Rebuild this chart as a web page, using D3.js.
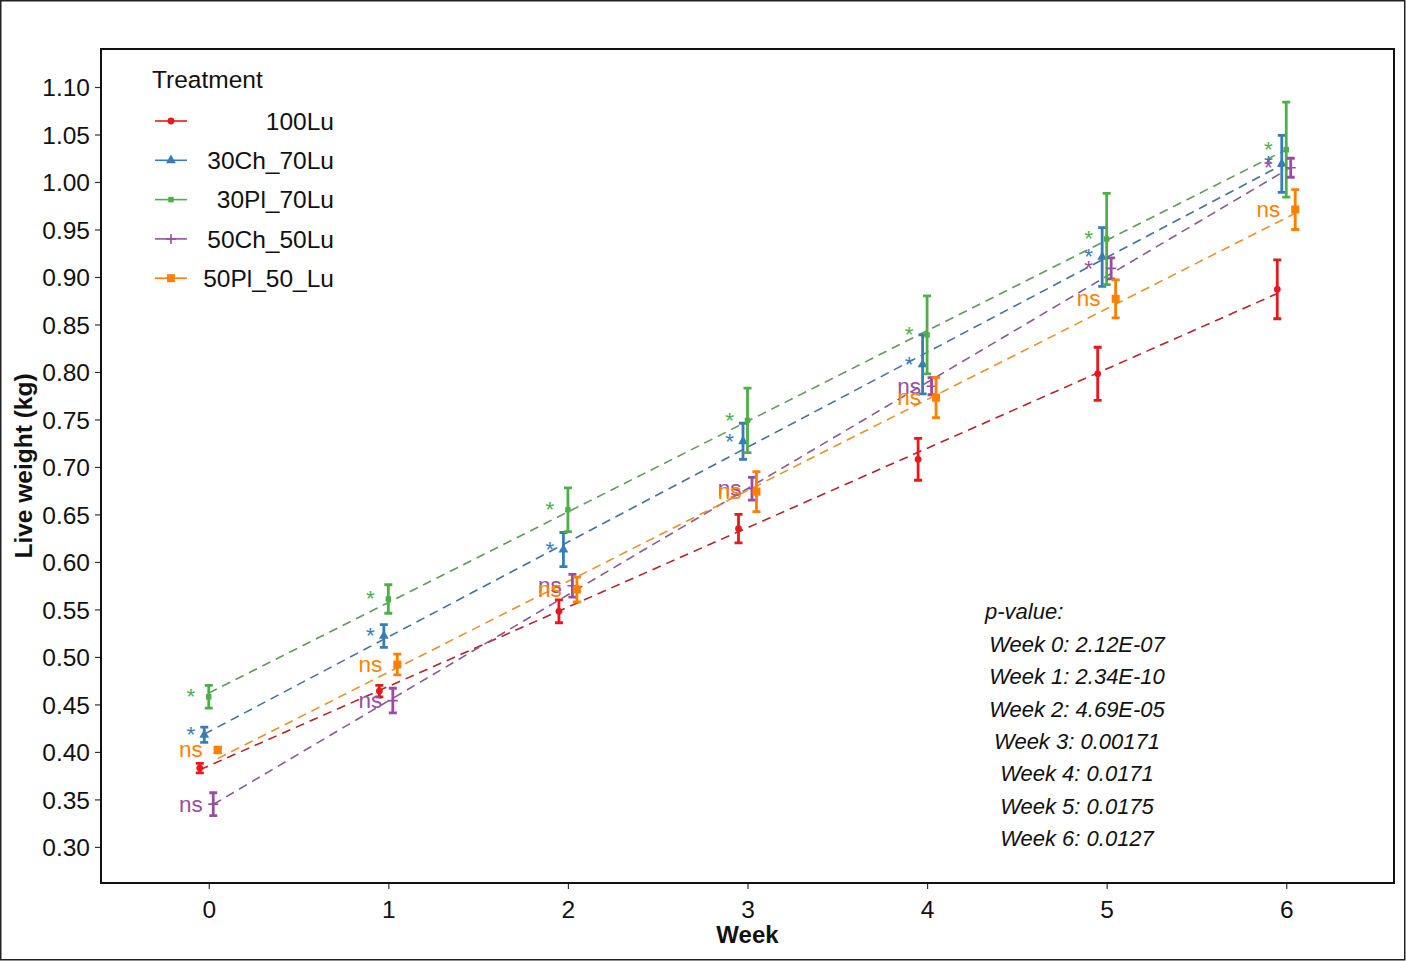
<!DOCTYPE html>
<html>
<head>
<meta charset="utf-8">
<script src="https://cdn.jsdelivr.net/npm/d3@7"></script>
<style>
  html, body { margin: 0; padding: 0; background: #fff; }
  svg { display: block; font-family: "Liberation Sans", Arial, sans-serif; }
</style>
</head>
<body>
<div id="chart"></div>
<script>
// weeks and treatments
const weeks = [0, 1, 2, 3, 4, 5, 6];
const treatments = ['100Lu', '30Ch_70Lu', '30Pl_70Lu', '50Ch_50Lu', '50Pl_50_Lu'];
const colors = ['#e41a1c', '#377eb8', '#4daf4a', '#984ea3', '#ff7f00'];
const lineColors = ['#b3262b', '#44729c', '#629a5b', '#8b5a93', '#e5932f'];
const shapes = ['circle', 'triangle', 'smallsquare', 'plus', 'square'];
const dodge = [-0.05, -0.025, 0, 0.025, 0.05];

// mean live weight (kg)
const mean100Lu = [0.383, 0.464, 0.548, 0.635, 0.708, 0.798, 0.887];
const mean30Ch70Lu = [0.418, 0.522, 0.613, 0.727, 0.808, 0.921, 1.019];
const mean30Pl70Lu = [0.458, 0.561, 0.655, 0.749, 0.839, 0.940, 1.034];
const mean50Ch50Lu = [0.345, 0.454, 0.575, 0.677, 0.785, 0.909, 1.015];
const mean50Pl50Lu = [0.402, 0.492, 0.571, 0.674, 0.773, 0.877, 0.971];

// standard errors
const se100Lu = [0.005, 0.006, 0.012, 0.015, 0.022, 0.028, 0.031];
const se30Ch70Lu = [0.008, 0.012, 0.018, 0.019, 0.031, 0.031, 0.030];
const se30Pl70Lu = [0.012, 0.015, 0.023, 0.034, 0.041, 0.048, 0.050];
const se50Ch50Lu = [0.012, 0.013, 0.012, 0.012, 0.009, 0.011, 0.010];
const se50Pl50Lu = [0.003, 0.011, 0.013, 0.021, 0.021, 0.020, 0.021];

// significance labels vs. 100Lu
const sig100Lu = ['', '', '', '', '', '', ''];
const sig30Ch70Lu = ['*', '*', '*', '*', '*', '*', '*'];
const sig30Pl70Lu = ['*', '*', '*', '*', '*', '*', '*'];
const sig50Ch50Lu = ['ns', 'ns', 'ns', 'ns', 'ns', '*', '*'];
const sig50Pl50Lu = ['ns', 'ns', 'ns', 'ns', 'ns', 'ns', 'ns'];

const pValueLines = ['Week 0: 2.12E-07', 'Week 1: 2.34E-10', 'Week 2: 4.69E-05',
  'Week 3: 0.00171', 'Week 4: 0.0171', 'Week 5: 0.0175', 'Week 6: 0.0127'];

const yTicks = [0.30, 0.35, 0.40, 0.45, 0.50, 0.55, 0.60, 0.65, 0.70, 0.75,
  0.80, 0.85, 0.90, 0.95, 1.00, 1.05, 1.10];

const means = [mean100Lu, mean30Ch70Lu, mean30Pl70Lu, mean50Ch50Lu, mean50Pl50Lu];
const ses = [se100Lu, se30Ch70Lu, se30Pl70Lu, se50Ch50Lu, se50Pl50Lu];
const sigs = [sig100Lu, sig30Ch70Lu, sig30Pl70Lu, sig50Ch50Lu, sig50Pl50Lu];

const series = treatments.map((name, i) => ({
  name: name,
  color: colors[i],
  lineColor: lineColors[i],
  shape: shapes[i],
  dodge: dodge[i],
  points: weeks.map((w, j) => ({week: w, mean: means[i][j], se: ses[i][j], sig: sigs[i][j]}))
}));

const W = 1406, H = 961;
const panel = {left: 101, right: 1394, top: 49, bottom: 883};

const svg = d3.select('#chart')
  .append('svg')
  .attr('width', W)
  .attr('height', H);

// outer frame
svg.append('rect')
  .attr('x', 0.75).attr('y', 0.75)
  .attr('width', W - 2).attr('height', H - 2)
  .attr('fill', 'none').attr('stroke', '#222').attr('stroke-width', 1.5);

const x = d3.scaleLinear()
  .domain([-0.6, 6.6])
  .range([panel.left, panel.right]);

const y = d3.scaleLinear()
  .domain([0.262, 1.14])
  .range([panel.bottom, panel.top]);

// axes
const xAxis = svg.append('g')
  .attr('transform', `translate(0,${panel.bottom})`)
  .call(d3.axisBottom(x).tickValues(weeks).tickSize(6).tickPadding(6).tickFormat(d3.format('d')));

const yAxis = svg.append('g')
  .attr('transform', `translate(${panel.left},0)`)
  .call(d3.axisLeft(y).tickValues(yTicks).tickSize(6).tickPadding(5).tickFormat(d3.format('.2f')));

[xAxis, yAxis].forEach(a => {
  a.select('.domain').remove();
  a.selectAll('.tick line').attr('stroke', '#333').attr('stroke-width', 1.2);
  a.selectAll('.tick text')
    .attr('fill', '#111')
    .style('font-size', '24.5px')
    .style('font-family', '"Liberation Sans", Arial, sans-serif');
});
xAxis.selectAll('.tick text').attr('dy', '0.92em');
yAxis.selectAll('.tick text').attr('dy', '0.36em');

// panel border
svg.append('rect')
  .attr('x', panel.left).attr('y', panel.top)
  .attr('width', panel.right - panel.left)
  .attr('height', panel.bottom - panel.top)
  .attr('fill', 'none').attr('stroke', '#111').attr('stroke-width', 2);

// axis titles
svg.append('text')
  .attr('x', (panel.left + panel.right) / 2)
  .attr('y', 943)
  .attr('text-anchor', 'middle')
  .style('font-size', '24px').style('font-weight', 'bold')
  .attr('fill', '#111')
  .text('Week');

svg.append('text')
  .attr('transform', `translate(32,${(panel.top + panel.bottom) / 2}) rotate(-90)`)
  .attr('text-anchor', 'middle')
  .style('font-size', '24.5px').style('font-weight', 'bold')
  .attr('fill', '#111')
  .text('Live weight (kg)');

const plot = svg.append('g');

// linear trend lines (least squares on each series)
series.forEach(s => {
  const n = s.points.length;
  const mx = d3.mean(s.points, d => d.week);
  const my = d3.mean(s.points, d => d.mean);
  const slope = d3.sum(s.points, d => (d.week - mx) * (d.mean - my)) /
    d3.sum(s.points, d => (d.week - mx) * (d.week - mx));
  const w0 = weeks[0], w1 = weeks[n - 1];
  plot.append('line')
    .attr('x1', x(w0 + s.dodge))
    .attr('y1', y(my + slope * (w0 - mx)))
    .attr('x2', x(w1 + s.dodge))
    .attr('y2', y(my + slope * (w1 - mx)))
    .attr('stroke', s.lineColor)
    .attr('stroke-width', 1.6)
    .attr('stroke-dasharray', '9,6');
});

function drawShape(g, shape, cx, cy, color, scale) {
  const k = scale || 1;
  if (shape === 'plus') {
    g.append('path')
      .attr('d', `M${cx - 5 * k},${cy}H${cx + 5 * k}M${cx},${cy - 5 * k}V${cy + 5 * k}`)
      .attr('stroke', color).attr('stroke-width', 1.6).attr('fill', 'none');
    return;
  }
  const type = shape === 'circle' ? d3.symbolCircle
    : shape === 'triangle' ? d3.symbolTriangle : d3.symbolSquare;
  const size = shape === 'circle' ? 36 : shape === 'triangle' ? 42
    : shape === 'smallsquare' ? 30 : 64;
  g.append('path')
    .attr('transform', `translate(${cx},${cy})`)
    .attr('d', d3.symbol().type(type).size(size * k * k)())
    .attr('fill', color);
}

// error bars and points
series.forEach(s => {
  const g = plot.append('g');
  s.points.forEach(d => {
    const cx = x(d.week + s.dodge);
    const top = y(d.mean + d.se), bot = y(d.mean - d.se);
    g.append('path')
      .attr('d', `M${cx},${top}V${bot}M${cx - 4},${top}H${cx + 4}M${cx - 4},${bot}H${cx + 4}`)
      .attr('stroke', s.color).attr('stroke-width', 2.8).attr('fill', 'none');
    drawShape(g, s.shape, cx, y(d.mean), s.color);
  });
});

// significance labels
series.forEach(s => {
  plot.selectAll(null)
    .data(s.points.filter(d => d.sig !== ''))
    .enter()
    .append('text')
    .attr('x', d => x(d.week - 0.1))
    .attr('y', d => y(d.mean))
    .attr('dy', '0.33em')
    .attr('text-anchor', 'middle')
    .attr('fill', s.color)
    .style('font-size', '22.5px')
    .text(d => d.sig);
});

// legend
const legend = svg.append('g');
legend.append('text')
  .attr('x', 152).attr('y', 88)
  .style('font-size', '24.5px').attr('fill', '#111')
  .text('Treatment');

series.forEach((s, i) => {
  const ly = 121 + i * 39.3;
  const row = legend.append('g');
  row.append('line')
    .attr('x1', 155).attr('x2', 187)
    .attr('y1', ly).attr('y2', ly)
    .attr('stroke', s.color).attr('stroke-width', 1.6);
  drawShape(row, s.shape, 171, ly, s.color);
  row.append('text')
    .attr('x', 334).attr('y', ly)
    .attr('dy', '0.36em')
    .attr('text-anchor', 'end')
    .style('font-size', '24.5px').attr('fill', '#111')
    .text(s.name);
});

// p-value annotation
const note = svg.append('g')
  .style('font-size', '22px').style('font-style', 'italic').attr('fill', '#111');
note.append('text')
  .attr('x', 985).attr('y', 619)
  .text('p-value:');
note.selectAll(null)
  .data(pValueLines)
  .enter()
  .append('text')
  .attr('x', 1077)
  .attr('y', (d, i) => 652 + i * 32.3)
  .attr('text-anchor', 'middle')
  .text(d => d);
</script>
</body>
</html>
